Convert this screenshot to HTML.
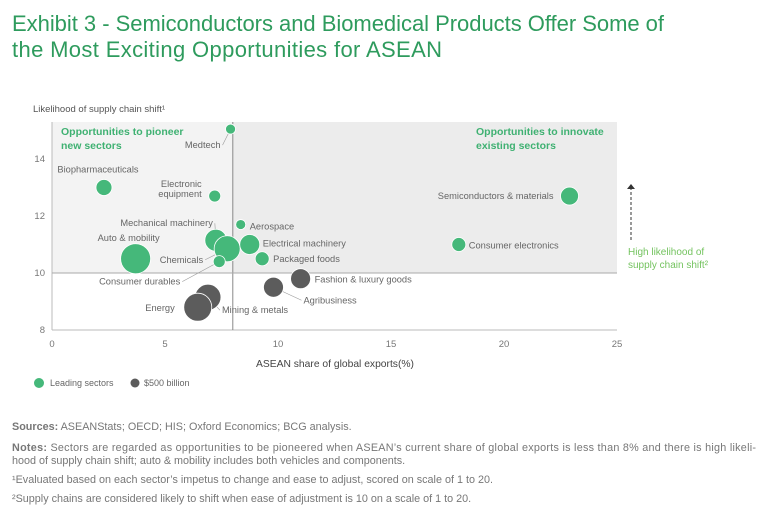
<!DOCTYPE html>
<html><head><meta charset="utf-8"><style>
body{margin:0;background:#fff;font-family:"Liberation Sans",sans-serif}
svg{display:block}
</style></head><body>
<svg id="chart" width="768" height="517" viewBox="0 0 768 517">
<text x="12" y="31" font-size="22" fill="#2e9b5d" textLength="652">Exhibit 3 - Semiconductors and Biomedical Products Offer Some of</text>
<text x="12" y="57" font-size="22" fill="#2e9b5d" textLength="430">the Most Exciting Opportunities for ASEAN</text>
<text x="33" y="112" font-size="9.5" fill="#555">Likelihood of supply chain shift¹</text>
<g id="quad"></g>
<g id="axes"></g>
<g id="marks"></g>
<g id="labels"></g>
<text x="61" y="135" font-size="10.5" font-weight="bold" fill="#3fb172">Opportunities to pioneer</text>
<text x="61" y="149" font-size="10.5" font-weight="bold" fill="#3fb172">new sectors</text>
<text x="476" y="135" font-size="10.5" font-weight="bold" fill="#3fb172">Opportunities to innovate</text>
<text x="476" y="149" font-size="10.5" font-weight="bold" fill="#3fb172">existing sectors</text>
<line x1="631" y1="240" x2="631" y2="189" stroke="#333" stroke-dasharray="3,2"/>
<polygon points="627,189 635,189 631,184" fill="#333"/>
<text x="628" y="255" font-size="10" fill="#74c35f">High likelihood of</text>
<text x="628" y="268" font-size="10" fill="#74c35f">supply chain shift²</text>
<text x="335" y="367" font-size="10.3" fill="#444" text-anchor="middle">ASEAN share of global exports(%)</text>
<circle cx="39" cy="383" r="5" fill="#45b87a"/>
<text x="50" y="386" font-size="9" fill="#666">Leading sectors</text>
<circle cx="135" cy="383" r="4.5" fill="#5c5c5c"/>
<text x="144" y="386" font-size="9" fill="#666">$500 billion</text>
<g font-size="10.8" fill="#777">
<text x="12" y="430"><tspan font-weight="bold">Sources:</tspan> ASEANStats; OECD; HIS; Oxford Economics; BCG analysis.</text>
<text x="12" y="451" textLength="744"><tspan font-weight="bold">Notes:</tspan> Sectors are regarded as opportunities to be pioneered when ASEAN’s current share of global exports is less than 8% and there is high likeli-</text>
<text x="12" y="464">hood of supply chain shift; auto &amp; mobility includes both vehicles and components.</text>
<text x="12" y="483">¹Evaluated based on each sector’s impetus to change and ease to adjust, scored on scale of 1 to 20.</text>
<text x="12" y="502">²Supply chains are considered likely to shift when ease of adjustment is 10 on a scale of 1 to 20.</text>
</g>
</svg>
<script>
const sectors=["Medtech","Biopharmaceuticals","Electronic equipment","Aerospace","Mechanical machinery","Chemicals","Electrical machinery","Packaged foods","Auto & mobility","Consumer durables","Semiconductors & materials","Consumer electronics","Fashion & luxury goods","Agribusiness","Mining & metals","Energy"];
const exportShare=[7.9,2.3,7.2,8.35,7.25,7.75,8.75,9.3,3.7,7.4,22.9,18.0,11.0,9.8,6.9,6.45];
const likelihood=[15.05,13.0,12.7,11.7,11.15,10.85,11.0,10.5,10.5,10.4,12.7,11.0,9.8,9.5,9.15,8.8];
const bubbleSize=[5,8,6,5,11,13,10,7,15,6,9,7,10,10,13,14];
const group=["lead","lead","lead","lead","lead","lead","lead","lead","lead","lead","lead","lead","big","big","big","big"];
const xTicks=[0,5,10,15,20,25];
const yTicks=[8,10,12,14];
// label layout: [dx,dy,anchor,leader]
const layout=[[-10,19,"end",1],[-6,-15,"middle",0],[-13,-9,"end",0],[9,5,"start",0],[-3,-14,"end",1],[-24,14,"end",1],[13,2,"start",0],[11,3,"start",0],[-7,-18,"middle",0],[-39,23,"end",1],[-16,3,"end",0],[10,4,"start",0],[14,4,"start",0],[30,16,"start",1],[14,16,"start",1],[-23,4,"end",0]];
const NS="http://www.w3.org/2000/svg";
const X0=52,X1=617,Y8=330,PPU=28.5;
const xs=v=>X0+(v/25)*(X1-X0);
const ys=v=>Y8-(v-8)*PPU;
function mk(t,a,p){const e=document.createElementNS(NS,t);for(const k in a)e.setAttribute(k,a[k]);p.appendChild(e);return e;}
const quad=document.getElementById('quad'),axes=document.getElementById('axes'),marks=document.getElementById('marks'),labels=document.getElementById('labels');
const q1=mk('rect',{x:X0,y:122,width:xs(8)-X0,height:ys(10)-122,fill:'#f3f3f3'},quad);


const q2=mk('rect',{x:xs(8),y:122,width:X1-xs(8),height:ys(10)-122,fill:'#ececec'},quad);


mk('line',{x1:X0,y1:122,x2:X0,y2:Y8,stroke:'#bbb'},axes);
mk('line',{x1:X0,y1:Y8,x2:X1,y2:Y8,stroke:'#bbb'},axes);
mk('line',{x1:xs(8),y1:122,x2:xs(8),y2:Y8,stroke:'#888'},axes);
mk('line',{x1:X0,y1:ys(10),x2:X1,y2:ys(10),stroke:'#aaa'},axes);
xTicks.forEach(t=>{const e=mk('text',{x:xs(t),y:Y8+17,'font-size':9.5,fill:'#777','text-anchor':'middle'},axes);e.textContent=t;

});
yTicks.forEach(t=>{const e=mk('text',{x:X0-7,y:ys(t)+3,'font-size':9.5,fill:'#777','text-anchor':'end'},axes);e.textContent=t;

});
sectors.forEach((s,i)=>{
 const cx=xs(exportShare[i]),cy=ys(likelihood[i]),r=bubbleSize[i];
 const c=mk('circle',{cx:cx,cy:cy,r:r,fill:group[i]=='lead'?'#45b87a':'#5c5c5c',stroke:'#fff','stroke-width':0.8},marks);
 
 
 const L=layout[i];const lx=cx+L[0],ly=cy+L[1];
 if(L[3]){const ln=mk('line',{x1:cx,y1:cy,x2:lx+(L[2]=='end'?2:-2),y2:ly-3,stroke:'#999','stroke-width':0.6},labels);
 
 }
 const t=mk('text',{x:lx,y:ly,'font-size':9.3,fill:'#666','text-anchor':L[2]},labels);
 if(s=="Electronic equipment"){mk('tspan',{x:lx,dy:0},t).textContent="Electronic";mk('tspan',{x:lx,dy:10},t).textContent="equipment";}
 else t.textContent=s;
 
 
});
// bring leader lines under bubbles
marks.parentNode.insertBefore(labels,marks);
document.getElementById('chart').appendChild(labels.cloneNode(false));
</script>
</body></html>
